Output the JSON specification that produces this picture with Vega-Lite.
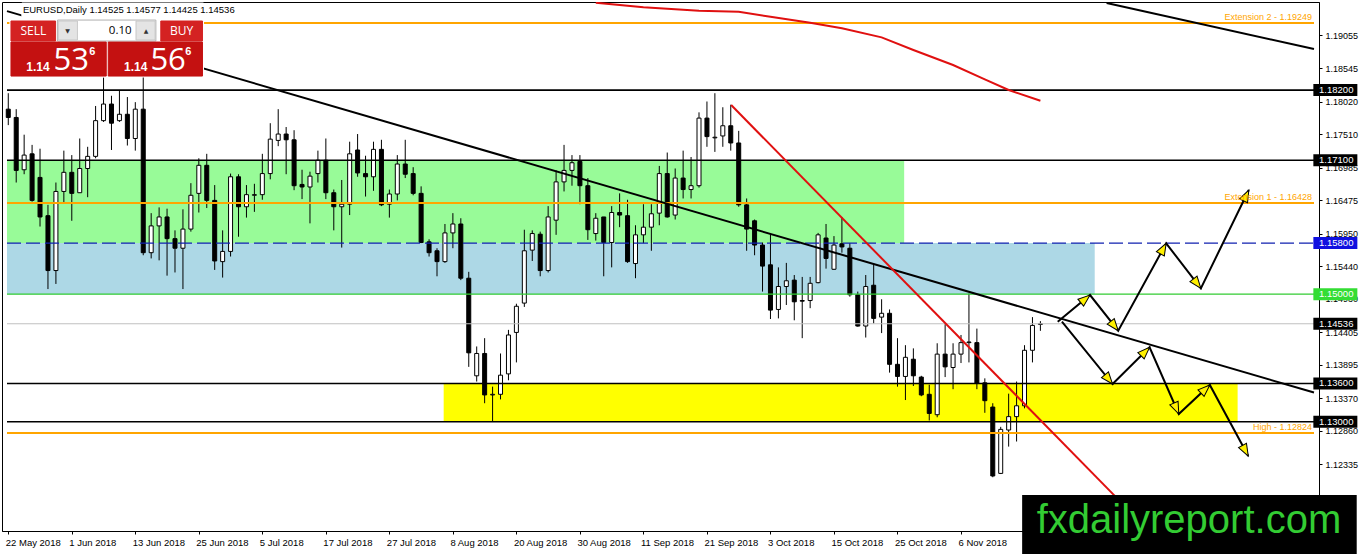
{
  "$schema": "https://vega.github.io/schema/vega-lite/v6.json",
  "width": 1317,
  "height": 529,
  "autosize": {"type": "none"},
  "padding": {"left": 2, "top": 2, "right": 43, "bottom": 23},
  "background": "white",
  "config": {
    "view": {"stroke": "black", "strokeWidth": 1},
    "font": "Liberation Sans",
    "axis": {"grid": false}
  },
  "datasets": {
    "candles": [
      {"i":0,"o":1.1790,"h":1.1815,"l":1.1765,"c":1.1777},
      {"i":1,"o":1.1777,"h":1.1790,"l":1.1675,"c":1.1694},
      {"i":2,"o":1.1695,"h":1.1750,"l":1.1688,"c":1.1718},
      {"i":3,"o":1.1720,"h":1.1734,"l":1.1645,"c":1.1647},
      {"i":4,"o":1.1683,"h":1.1728,"l":1.1606,"c":1.1621},
      {"i":5,"o":1.1623,"h":1.1640,"l":1.1508,"c":1.1537},
      {"i":6,"o":1.1537,"h":1.1675,"l":1.1516,"c":1.1661},
      {"i":7,"o":1.1661,"h":1.1725,"l":1.1642,"c":1.1691},
      {"i":8,"o":1.1691,"h":1.1718,"l":1.1615,"c":1.1658},
      {"i":9,"o":1.1659,"h":1.1744,"l":1.1659,"c":1.1697},
      {"i":10,"o":1.1697,"h":1.1731,"l":1.1652,"c":1.1716},
      {"i":11,"o":1.1716,"h":1.1795,"l":1.1713,"c":1.1772},
      {"i":12,"o":1.1772,"h":1.1840,"l":1.1770,"c":1.1798},
      {"i":13,"o":1.1798,"h":1.1811,"l":1.1726,"c":1.1768},
      {"i":14,"o":1.1772,"h":1.1820,"l":1.1770,"c":1.1782},
      {"i":15,"o":1.1782,"h":1.1809,"l":1.1733,"c":1.1744},
      {"i":16,"o":1.1744,"h":1.1801,"l":1.1725,"c":1.1790},
      {"i":17,"o":1.1790,"h":1.1852,"l":1.1561,"c":1.1565},
      {"i":18,"o":1.1565,"h":1.1627,"l":1.1556,"c":1.1607},
      {"i":19,"o":1.1607,"h":1.1636,"l":1.1553,"c":1.1621},
      {"i":20,"o":1.1621,"h":1.1634,"l":1.1529,"c":1.1587},
      {"i":21,"o":1.1587,"h":1.1600,"l":1.1534,"c":1.1572},
      {"i":22,"o":1.1572,"h":1.1633,"l":1.1508,"c":1.1602},
      {"i":23,"o":1.1602,"h":1.1674,"l":1.1598,"c":1.1655},
      {"i":24,"o":1.1658,"h":1.1713,"l":1.1628,"c":1.1702},
      {"i":25,"o":1.1702,"h":1.1720,"l":1.1635,"c":1.1647},
      {"i":26,"o":1.1647,"h":1.1671,"l":1.1538,"c":1.1552},
      {"i":27,"o":1.1551,"h":1.1600,"l":1.1526,"c":1.1567},
      {"i":28,"o":1.1567,"h":1.1689,"l":1.1559,"c":1.1684},
      {"i":29,"o":1.1684,"h":1.1688,"l":1.1590,"c":1.1637},
      {"i":30,"o":1.1637,"h":1.1671,"l":1.1620,"c":1.1656},
      {"i":31,"o":1.1655,"h":1.1673,"l":1.1629,"c":1.1656},
      {"i":32,"o":1.1656,"h":1.1720,"l":1.1648,"c":1.1689},
      {"i":33,"o":1.1689,"h":1.1768,"l":1.1680,"c":1.1743},
      {"i":34,"o":1.1741,"h":1.1790,"l":1.1732,"c":1.1751},
      {"i":35,"o":1.1751,"h":1.1762,"l":1.1688,"c":1.1742},
      {"i":36,"o":1.1742,"h":1.1757,"l":1.1663,"c":1.1670},
      {"i":37,"o":1.1672,"h":1.1695,"l":1.1649,"c":1.1668},
      {"i":38,"o":1.1668,"h":1.1692,"l":1.1611,"c":1.1685},
      {"i":39,"o":1.1689,"h":1.1725,"l":1.1675,"c":1.1710},
      {"i":40,"o":1.1710,"h":1.1744,"l":1.1649,"c":1.1659},
      {"i":41,"o":1.1659,"h":1.1664,"l":1.1600,"c":1.1637},
      {"i":42,"o":1.1637,"h":1.1679,"l":1.1573,"c":1.1641},
      {"i":43,"o":1.1641,"h":1.1739,"l":1.1624,"c":1.1720},
      {"i":44,"o":1.1726,"h":1.1751,"l":1.1684,"c":1.1690},
      {"i":45,"o":1.1689,"h":1.1717,"l":1.1653,"c":1.1684},
      {"i":46,"o":1.1684,"h":1.1739,"l":1.1662,"c":1.1727},
      {"i":47,"o":1.1727,"h":1.1742,"l":1.1638,"c":1.1640},
      {"i":48,"o":1.1641,"h":1.1664,"l":1.1620,"c":1.1657},
      {"i":49,"o":1.1657,"h":1.1718,"l":1.1647,"c":1.1704},
      {"i":50,"o":1.1704,"h":1.1742,"l":1.1682,"c":1.1688},
      {"i":51,"o":1.1689,"h":1.1699,"l":1.1655,"c":1.1658},
      {"i":52,"o":1.1658,"h":1.1669,"l":1.1580,"c":1.1581},
      {"i":53,"o":1.1582,"h":1.1586,"l":1.1559,"c":1.1565},
      {"i":54,"o":1.1568,"h":1.1572,"l":1.1528,"c":1.1551},
      {"i":55,"o":1.1551,"h":1.1610,"l":1.1549,"c":1.1596},
      {"i":56,"o":1.1596,"h":1.1627,"l":1.1572,"c":1.1610},
      {"i":57,"o":1.1610,"h":1.1619,"l":1.1522,"c":1.1525},
      {"i":58,"o":1.1525,"h":1.1535,"l":1.1386,"c":1.1408},
      {"i":59,"o":1.1372,"h":1.1418,"l":1.1363,"c":1.1407},
      {"i":60,"o":1.1407,"h":1.1431,"l":1.1329,"c":1.1342},
      {"i":61,"o":1.1342,"h":1.1355,"l":1.1300,"c":1.1343},
      {"i":62,"o":1.1343,"h":1.1407,"l":1.1335,"c":1.1373},
      {"i":63,"o":1.1375,"h":1.1444,"l":1.1365,"c":1.1436},
      {"i":64,"o":1.1440,"h":1.1485,"l":1.1393,"c":1.1481},
      {"i":65,"o":1.1486,"h":1.1601,"l":1.1480,"c":1.1568},
      {"i":66,"o":1.1569,"h":1.1600,"l":1.1552,"c":1.1595},
      {"i":67,"o":1.1594,"h":1.1598,"l":1.1528,"c":1.1537},
      {"i":68,"o":1.1537,"h":1.1638,"l":1.1534,"c":1.1621},
      {"i":69,"o":1.1616,"h":1.1694,"l":1.1593,"c":1.1676},
      {"i":70,"o":1.1676,"h":1.1734,"l":1.1661,"c":1.1694},
      {"i":71,"o":1.1694,"h":1.1718,"l":1.1670,"c":1.1706},
      {"i":72,"o":1.1708,"h":1.1718,"l":1.1641,"c":1.1670},
      {"i":73,"o":1.1670,"h":1.1682,"l":1.1585,"c":1.1601},
      {"i":74,"o":1.1595,"h":1.1627,"l":1.1584,"c":1.1619},
      {"i":75,"o":1.1621,"h":1.1621,"l":1.1528,"c":1.1581},
      {"i":76,"o":1.1581,"h":1.1638,"l":1.1542,"c":1.1628},
      {"i":77,"o":1.1628,"h":1.1658,"l":1.1605,"c":1.1624},
      {"i":78,"o":1.1623,"h":1.1648,"l":1.1549,"c":1.1551},
      {"i":79,"o":1.1548,"h":1.1608,"l":1.1525,"c":1.1593},
      {"i":80,"o":1.1593,"h":1.1641,"l":1.1580,"c":1.1605},
      {"i":81,"o":1.1605,"h":1.1641,"l":1.1568,"c":1.1626},
      {"i":82,"o":1.1627,"h":1.1701,"l":1.1608,"c":1.1689},
      {"i":83,"o":1.1689,"h":1.1722,"l":1.1620,"c":1.1621},
      {"i":84,"o":1.1624,"h":1.1697,"l":1.1617,"c":1.1682},
      {"i":85,"o":1.1682,"h":1.1725,"l":1.1650,"c":1.1664},
      {"i":86,"o":1.1664,"h":1.1715,"l":1.1650,"c":1.1670},
      {"i":87,"o":1.1670,"h":1.1785,"l":1.1667,"c":1.1776},
      {"i":88,"o":1.1776,"h":1.1802,"l":1.1731,"c":1.1747},
      {"i":89,"o":1.1745,"h":1.1815,"l":1.1723,"c":1.1746},
      {"i":90,"o":1.1748,"h":1.1793,"l":1.1731,"c":1.1764},
      {"i":91,"o":1.1764,"h":1.1797,"l":1.1725,"c":1.1737},
      {"i":92,"o":1.1737,"h":1.1756,"l":1.1637,"c":1.1640},
      {"i":93,"o":1.1640,"h":1.1650,"l":1.1568,"c":1.1602},
      {"i":94,"o":1.1615,"h":1.1617,"l":1.1561,"c":1.1577},
      {"i":95,"o":1.1577,"h":1.1581,"l":1.1504,"c":1.1544},
      {"i":96,"o":1.1546,"h":1.1594,"l":1.1461,"c":1.1475},
      {"i":97,"o":1.1476,"h":1.1542,"l":1.1462,"c":1.1512},
      {"i":98,"o":1.1512,"h":1.1549,"l":1.1483,"c":1.1521},
      {"i":99,"o":1.1522,"h":1.1530,"l":1.1459,"c":1.1488},
      {"i":100,"o":1.1490,"h":1.1527,"l":1.1431,"c":1.1489},
      {"i":101,"o":1.1490,"h":1.1527,"l":1.1478,"c":1.1517},
      {"i":102,"o":1.1518,"h":1.1596,"l":1.1517,"c":1.1593},
      {"i":103,"o":1.1588,"h":1.1610,"l":1.1540,"c":1.1556},
      {"i":104,"o":1.1539,"h":1.1591,"l":1.1538,"c":1.1577},
      {"i":105,"o":1.1579,"h":1.1621,"l":1.1565,"c":1.1574},
      {"i":106,"o":1.1572,"h":1.1580,"l":1.1496,"c":1.1499},
      {"i":107,"o":1.1499,"h":1.1504,"l":1.1449,"c":1.1450},
      {"i":108,"o":1.1450,"h":1.1530,"l":1.1432,"c":1.1512},
      {"i":109,"o":1.1514,"h":1.1548,"l":1.1454,"c":1.1462},
      {"i":110,"o":1.1464,"h":1.1492,"l":1.1439,"c":1.1470},
      {"i":111,"o":1.1470,"h":1.1476,"l":1.1377,"c":1.1390},
      {"i":112,"o":1.1390,"h":1.1431,"l":1.1355,"c":1.1371},
      {"i":113,"o":1.1371,"h":1.1420,"l":1.1334,"c":1.1401},
      {"i":114,"o":1.1398,"h":1.1415,"l":1.1356,"c":1.1372},
      {"i":115,"o":1.1370,"h":1.1372,"l":1.1340,"c":1.1342},
      {"i":116,"o":1.1343,"h":1.1358,"l":1.1302,"c":1.1313},
      {"i":117,"o":1.1311,"h":1.1423,"l":1.1307,"c":1.1406},
      {"i":118,"o":1.1406,"h":1.1453,"l":1.1370,"c":1.1386},
      {"i":119,"o":1.1385,"h":1.1423,"l":1.1351,"c":1.1406},
      {"i":120,"o":1.1406,"h":1.1436,"l":1.1392,"c":1.1424},
      {"i":121,"o":1.1424,"h":1.1501,"l":1.1393,"c":1.1425},
      {"i":122,"o":1.1424,"h":1.1446,"l":1.1351,"c":1.1360},
      {"i":123,"o":1.1361,"h":1.1368,"l":1.1314,"c":1.1333},
      {"i":124,"o":1.1323,"h":1.1329,"l":1.1213,"c":1.1215},
      {"i":125,"o":1.1219,"h":1.1292,"l":1.1218,"c":1.1288},
      {"i":126,"o":1.1287,"h":1.1344,"l":1.1261,"c":1.1308},
      {"i":127,"o":1.1308,"h":1.1363,"l":1.1269,"c":1.1325},
      {"i":128,"o":1.1325,"h":1.1420,"l":1.1321,"c":1.1412},
      {"i":129,"o":1.1412,"h":1.1464,"l":1.1393,"c":1.1451},
      {"i":130,"o":1.14525,"h":1.14577,"l":1.14425,"c":1.14536}
    ],
    "zones": [
      {"zone":"green","i":-0.16,"i2":112.84,"p":1.171,"p2":1.158},
      {"zone":"blue","i":-0.16,"i2":136.84,"p":1.158,"p2":1.150},
      {"zone":"yellow","i":54.84,"i2":154.84,"p":1.136,"p2":1.130}
    ],
    "levels": [
      {"p":1.19249,"kind":"ext"},
      {"p":1.182,"kind":"thin"},
      {"p":1.171,"kind":"thick"},
      {"p":1.16428,"kind":"ext"},
      {"p":1.158,"kind":"blue"},
      {"p":1.150,"kind":"green"},
      {"p":1.14536,"kind":"price"},
      {"p":1.136,"kind":"thick"},
      {"p":1.130,"kind":"thick"},
      {"p":1.12824,"kind":"ext"}
    ],
    "lines": [
      {"line":"down","i":-0.16,"p":1.19437},
      {"line":"down","i":164.46,"p":1.13458},
      {"line":"top","i":138.34,"p":1.19564},
      {"line":"top","i":164.46,"p":1.18843},
      {"line":"red","i":91.05,"p":1.17965},
      {"line":"red","i":140.2,"p":1.11732},
      {"line":"ma","i":74,"p":1.19569},
      {"line":"ma","i":80,"p":1.19496},
      {"line":"ma","i":87,"p":1.19443},
      {"line":"ma","i":92,"p":1.19427},
      {"line":"ma","i":96,"p":1.19349},
      {"line":"ma","i":101,"p":1.19255},
      {"line":"ma","i":105,"p":1.19167},
      {"line":"ma","i":110,"p":1.19026},
      {"line":"ma","i":114,"p":1.18827},
      {"line":"ma","i":119,"p":1.18592},
      {"line":"ma","i":123,"p":1.18368},
      {"line":"ma","i":126,"p":1.182},
      {"line":"ma","i":130,"p":1.18032}
    ],
    "arrows": [
      {"path":"up","i":132.18,"p":1.14568},
      {"path":"up","i":136.25,"p":1.14986,"ang":50.7},
      {"path":"up","i":139.8,"p":1.14427,"ang":141.5},
      {"path":"up","i":145.84,"p":1.15797,"ang":28.9},
      {"path":"up","i":150.21,"p":1.15091,"ang":142.1},
      {"path":"up","i":156.25,"p":1.16632,"ang":26.2},
      {"path":"dn","i":132.71,"p":1.14568},
      {"path":"dn","i":139.09,"p":1.13591,"ang":140.7},
      {"path":"dn","i":143.75,"p":1.14166,"ang":45.5},
      {"path":"dn","i":147.43,"p":1.13121,"ang":156.2},
      {"path":"dn","i":151.34,"p":1.13576,"ang":47.2},
      {"path":"dn","i":156.18,"p":1.12462,"ang":151.4}
    ],
    "boxes": [
      {"p":1.182,"k":"black"},
      {"p":1.171,"k":"black"},
      {"p":1.158,"k":"blue"},
      {"p":1.150,"k":"green"},
      {"p":1.14536,"k":"black"},
      {"p":1.136,"k":"black"},
      {"p":1.130,"k":"black"}
    ],
    "notes": [
      {"i":164.21,"p":1.19249,"t":"Extension 2 - 1.19249"},
      {"i":164.21,"p":1.16428,"t":"Extension 1 - 1.16428"},
      {"i":164.21,"p":1.12824,"t":"High - 1.12824"}
    ],
    "panel": [
      {"kind":"bg","i":1.71,"i2":24.59,"p":1.19564,"p2":1.19297},
      {"kind":"bg","i":0.21,"i2":24.59,"p":1.19297,"p2":1.18404},
      {"kind":"btn","i":0.34,"i2":5.96,"p":1.19282,"p2":1.18968},
      {"kind":"lot","i":6.21,"i2":18.59,"p":1.19297,"p2":1.18968},
      {"kind":"lotbtn","i":6.3,"i2":8.71,"p":1.19282,"p2":1.18984},
      {"kind":"lotbtn","i":16.09,"i2":18.5,"p":1.19282,"p2":1.18984},
      {"kind":"btn","i":19.21,"i2":24.46,"p":1.19282,"p2":1.18968},
      {"kind":"price","i":0.34,"i2":12.34,"p":1.18952,"p2":1.18419},
      {"kind":"price","i":12.59,"i2":24.46,"p":1.18952,"p2":1.18419}
    ],
    "paneltext": [
      {"role":"btn","i":3.15,"p":1.19125,"t":"SELL"},
      {"role":"btn","i":21.84,"p":1.19125,"t":"BUY"},
      {"role":"lot","i":15.53,"p":1.19125,"t":"0.10"},
      {"role":"tri","i":7.46,"p":1.19125,"t":"▼"},
      {"role":"tri","i":17.34,"p":1.19125,"t":"▲"},
      {"role":"mid","i":2.27,"p":1.18503,"t":"1.14"},
      {"role":"big","i":5.71,"p":1.18514,"t":"53"},
      {"role":"sup","i":10.21,"p":1.18749,"t":"6"},
      {"role":"mid","i":14.59,"p":1.18503,"t":"1.14"},
      {"role":"big","i":17.9,"p":1.18514,"t":"56"},
      {"role":"sup","i":22.3,"p":1.18749,"t":"6"},
      {"role":"head","i":1.84,"p":1.19454,"t":"EURUSD,Daily  1.14525 1.14577 1.14425 1.14536"}
    ],
    "logo": [
      {"i":127.7,"i2":169.84,"p":1.11851,"p2":1.10926,"t":"fxdailyreport.com","ti":148.71,"tp":1.11251}
    ]
  },
  "resolve": {"scale": {"color": "independent", "stroke": "independent", "strokeWidth": "independent", "strokeDash": "independent"}},
  "layer": [
    {
      "data": {"name": "zones"},
      "mark": {"type": "rect"},
      "encoding": {
        "x": {"field": "i", "type": "quantitative", "title": null},
        "x2": {"field": "i2"},
        "y": {"field": "p", "type": "quantitative", "title": null},
        "y2": {"field": "p2"},
        "color": {"field": "zone", "type": "nominal", "legend": null,
          "scale": {"domain": ["green", "blue", "yellow"], "range": ["#98FB98", "#ADD8E6", "#FFFF00"]}}
      }
    },
    {
      "data": {"name": "candles"},
      "mark": {"type": "rule", "color": "black", "strokeWidth": 1},
      "encoding": {
        "x": {"field": "i", "type": "quantitative", "title": null},
        "y": {"field": "l", "type": "quantitative", "title": null},
        "y2": {"field": "h"}
      }
    },
    {
      "data": {"name": "candles"},
      "mark": {"type": "bar", "orient": "vertical", "size": 4, "stroke": "black", "strokeWidth": 1},
      "encoding": {
        "x": {
          "field": "i", "type": "quantitative", "title": null,
          "scale": {"domain": [-0.16, 164.46], "nice": false, "zero": false},
          "axis": {
            "title": null, "grid": false, "orient": "bottom",
            "values": [0, 8, 16, 24, 32, 40, 48, 56, 64, 72, 80, 88, 96, 104, 112, 120],
            "labelExpr": "['22 May 2018','1 Jun 2018','13 Jun 2018','25 Jun 2018','5 Jul 2018','17 Jul 2018','27 Jul 2018','8 Aug 2018','20 Aug 2018','30 Aug 2018','11 Sep 2018','21 Sep 2018','3 Oct 2018','15 Oct 2018','25 Oct 2018','6 Nov 2018'][round(datum.value / 8)]",
            "labelAlign": "left", "labelOffset": -3, "labelPadding": 3, "tickSize": 3,
            "labelOverlap": false, "labelFlush": false,
            "labelFont": "Liberation Sans", "labelFontSize": 9.5, "labelColor": "black",
            "domainColor": "black", "tickColor": "black"
          }
        },
        "y": {
          "field": "o", "type": "quantitative", "title": null,
          "scale": {"domain": [1.11287, 1.1958], "nice": false, "zero": false},
          "axis": {
            "title": null, "grid": false, "orient": "right",
            "values": [1.12335, 1.1286, 1.1337, 1.13895, 1.14405, 1.1493, 1.1544, 1.1595, 1.16475, 1.16985, 1.1751, 1.1802, 1.18545, 1.19055],
            "format": ".5f", "tickSize": 3, "labelPadding": 3,
            "labelOverlap": false, "labelFlush": false,
            "labelFont": "Liberation Sans", "labelFontSize": 9, "labelColor": "black",
            "domainColor": "black", "tickColor": "black"
          }
        },
        "y2": {"field": "c"},
        "fill": {"condition": {"test": "datum.c >= datum.o", "value": "#FFFFFF"}, "value": "#000000"}
      }
    },
    {
      "data": {"name": "levels"},
      "mark": {"type": "rule"},
      "encoding": {
        "x": {"datum": -0.16, "type": "quantitative", "title": null},
        "x2": {"datum": 164.46},
        "y": {"field": "p", "type": "quantitative", "title": null},
        "color": {"field": "kind", "type": "nominal", "legend": null,
          "scale": {"domain": ["ext", "thin", "thick", "blue", "green", "price"], "range": ["#FFA500", "#000000", "#000000", "#1020B0", "#33CC33", "#C0C0C0"]}},
        "strokeWidth": {"field": "kind", "type": "nominal", "legend": null,
          "scale": {"domain": ["ext", "thin", "thick", "blue", "green", "price"], "range": [2, 1, 2, 1, 2, 1]}},
        "strokeDash": {"field": "kind", "type": "nominal", "legend": null,
          "scale": {"domain": ["ext", "thin", "thick", "blue", "green", "price"], "range": [[1, 0], [1, 0], [1, 0], [14, 5], [1, 0], [1, 0]]}}
      }
    },
    {
      "data": {"name": "lines"},
      "mark": {"type": "line", "strokeWidth": 2, "clip": true},
      "encoding": {
        "x": {"field": "i", "type": "quantitative", "title": null},
        "y": {"field": "p", "type": "quantitative", "title": null},
        "color": {"field": "line", "type": "nominal", "legend": null,
          "scale": {"domain": ["down", "top", "red", "ma"], "range": ["#000000", "#000000", "#E01010", "#E01010"]}}
      }
    },
    {
      "data": {"name": "arrows"},
      "mark": {"type": "line", "color": "black", "strokeWidth": 2},
      "encoding": {
        "x": {"field": "i", "type": "quantitative", "title": null},
        "y": {"field": "p", "type": "quantitative", "title": null},
        "detail": {"field": "path", "type": "nominal"}
      }
    },
    {
      "data": {"name": "arrows"},
      "transform": [{"filter": "isValid(datum.ang)"}],
      "mark": {"type": "point", "shape": "M0,0L0.75,2L-0.75,2Z", "size": 144, "filled": true, "fill": "#FFF000", "stroke": "black", "strokeWidth": 1, "opacity": 1},
      "encoding": {
        "x": {"field": "i", "type": "quantitative", "title": null},
        "y": {"field": "p", "type": "quantitative", "title": null},
        "angle": {"field": "ang", "type": "quantitative", "scale": null}
      }
    },
    {
      "data": {"name": "notes"},
      "mark": {"type": "text", "align": "right", "baseline": "bottom", "dy": -1, "color": "#FFA500", "font": "Liberation Sans", "fontSize": 9},
      "encoding": {
        "x": {"field": "i", "type": "quantitative", "title": null},
        "y": {"field": "p", "type": "quantitative", "title": null},
        "text": {"field": "t"}
      }
    },
    {
      "data": {"name": "boxes"},
      "mark": {"type": "tick", "orient": "horizontal", "size": 44, "thickness": 12, "opacity": 1},
      "encoding": {
        "x": {"datum": 167.15, "type": "quantitative", "title": null},
        "y": {"field": "p", "type": "quantitative", "title": null},
        "color": {"field": "k", "type": "nominal", "legend": null,
          "scale": {"domain": ["black", "blue", "green"], "range": ["#000000", "#1010E0", "#33DD33"]}}
      }
    },
    {
      "data": {"name": "boxes"},
      "mark": {"type": "text", "align": "left", "baseline": "middle", "color": "white", "font": "Liberation Sans", "fontSize": 9.5},
      "encoding": {
        "x": {"datum": 165.1, "type": "quantitative", "title": null},
        "y": {"field": "p", "type": "quantitative", "title": null},
        "text": {"field": "p", "type": "quantitative", "format": ".5f"}
      }
    },
    {
      "data": {"name": "panel"},
      "mark": {"type": "rect", "strokeWidth": 1},
      "encoding": {
        "x": {"field": "i", "type": "quantitative", "title": null},
        "x2": {"field": "i2"},
        "y": {"field": "p", "type": "quantitative", "title": null},
        "y2": {"field": "p2"},
        "color": {"field": "kind", "type": "nominal", "legend": null,
          "scale": {"domain": ["bg", "btn", "lot", "lotbtn", "price"], "range": ["#FFFFFF", "#D42222", "#FFFFFF", "#E4E4E4", "#C41111"]}},
        "stroke": {"field": "kind", "type": "nominal", "legend": null,
          "scale": {"domain": ["bg", "btn", "lot", "lotbtn", "price"], "range": ["#FFFFFF", "#D42222", "#B0B0B0", "#C8C8C8", "#C41111"]}}
      }
    },
    {
      "data": {"name": "paneltext"},
      "transform": [{"filter": "datum.role == 'btn'"}],
      "mark": {"type": "text", "align": "center", "baseline": "middle", "color": "white", "font": "Open Sans", "fontSize": 12},
      "encoding": {
        "x": {"field": "i", "type": "quantitative", "title": null},
        "y": {"field": "p", "type": "quantitative", "title": null},
        "text": {"field": "t"}
      }
    },
    {
      "data": {"name": "paneltext"},
      "transform": [{"filter": "datum.role == 'lot'"}],
      "mark": {"type": "text", "align": "right", "baseline": "middle", "color": "black", "font": "Open Sans", "fontSize": 11.5},
      "encoding": {
        "x": {"field": "i", "type": "quantitative", "title": null},
        "y": {"field": "p", "type": "quantitative", "title": null},
        "text": {"field": "t"}
      }
    },
    {
      "data": {"name": "paneltext"},
      "transform": [{"filter": "datum.role == 'tri'"}],
      "mark": {"type": "text", "align": "center", "baseline": "middle", "color": "#333333", "font": "DejaVu Sans", "fontSize": 6},
      "encoding": {
        "x": {"field": "i", "type": "quantitative", "title": null},
        "y": {"field": "p", "type": "quantitative", "title": null},
        "text": {"field": "t"}
      }
    },
    {
      "data": {"name": "paneltext"},
      "transform": [{"filter": "datum.role == 'mid'"}],
      "mark": {"type": "text", "align": "left", "baseline": "alphabetic", "color": "white", "font": "Liberation Sans", "fontSize": 12, "fontWeight": "bold"},
      "encoding": {
        "x": {"field": "i", "type": "quantitative", "title": null},
        "y": {"field": "p", "type": "quantitative", "title": null},
        "text": {"field": "t"}
      }
    },
    {
      "data": {"name": "paneltext"},
      "transform": [{"filter": "datum.role == 'big'"}],
      "mark": {"type": "text", "align": "left", "baseline": "alphabetic", "color": "white", "font": "Open Sans", "fontSize": 31},
      "encoding": {
        "x": {"field": "i", "type": "quantitative", "title": null},
        "y": {"field": "p", "type": "quantitative", "title": null},
        "text": {"field": "t"}
      }
    },
    {
      "data": {"name": "paneltext"},
      "transform": [{"filter": "datum.role == 'sup'"}],
      "mark": {"type": "text", "align": "left", "baseline": "alphabetic", "color": "white", "font": "Liberation Sans", "fontSize": 11, "fontWeight": "bold"},
      "encoding": {
        "x": {"field": "i", "type": "quantitative", "title": null},
        "y": {"field": "p", "type": "quantitative", "title": null},
        "text": {"field": "t"}
      }
    },
    {
      "data": {"name": "paneltext"},
      "transform": [{"filter": "datum.role == 'head'"}],
      "mark": {"type": "text", "align": "left", "baseline": "middle", "color": "black", "font": "Liberation Sans", "fontSize": 9.5},
      "encoding": {
        "x": {"field": "i", "type": "quantitative", "title": null},
        "y": {"field": "p", "type": "quantitative", "title": null},
        "text": {"field": "t"}
      }
    },
    {
      "data": {"name": "logo"},
      "mark": {"type": "rect", "color": "black"},
      "encoding": {
        "x": {"field": "i", "type": "quantitative", "title": null},
        "x2": {"field": "i2"},
        "y": {"field": "p", "type": "quantitative", "title": null},
        "y2": {"field": "p2"}
      }
    },
    {
      "data": {"name": "logo"},
      "mark": {"type": "text", "align": "center", "baseline": "alphabetic", "color": "#33CC33", "font": "Liberation Sans", "fontSize": 40},
      "encoding": {
        "x": {"field": "ti", "type": "quantitative", "title": null},
        "y": {"field": "tp", "type": "quantitative", "title": null},
        "text": {"field": "t"}
      }
    }
  ]
}
